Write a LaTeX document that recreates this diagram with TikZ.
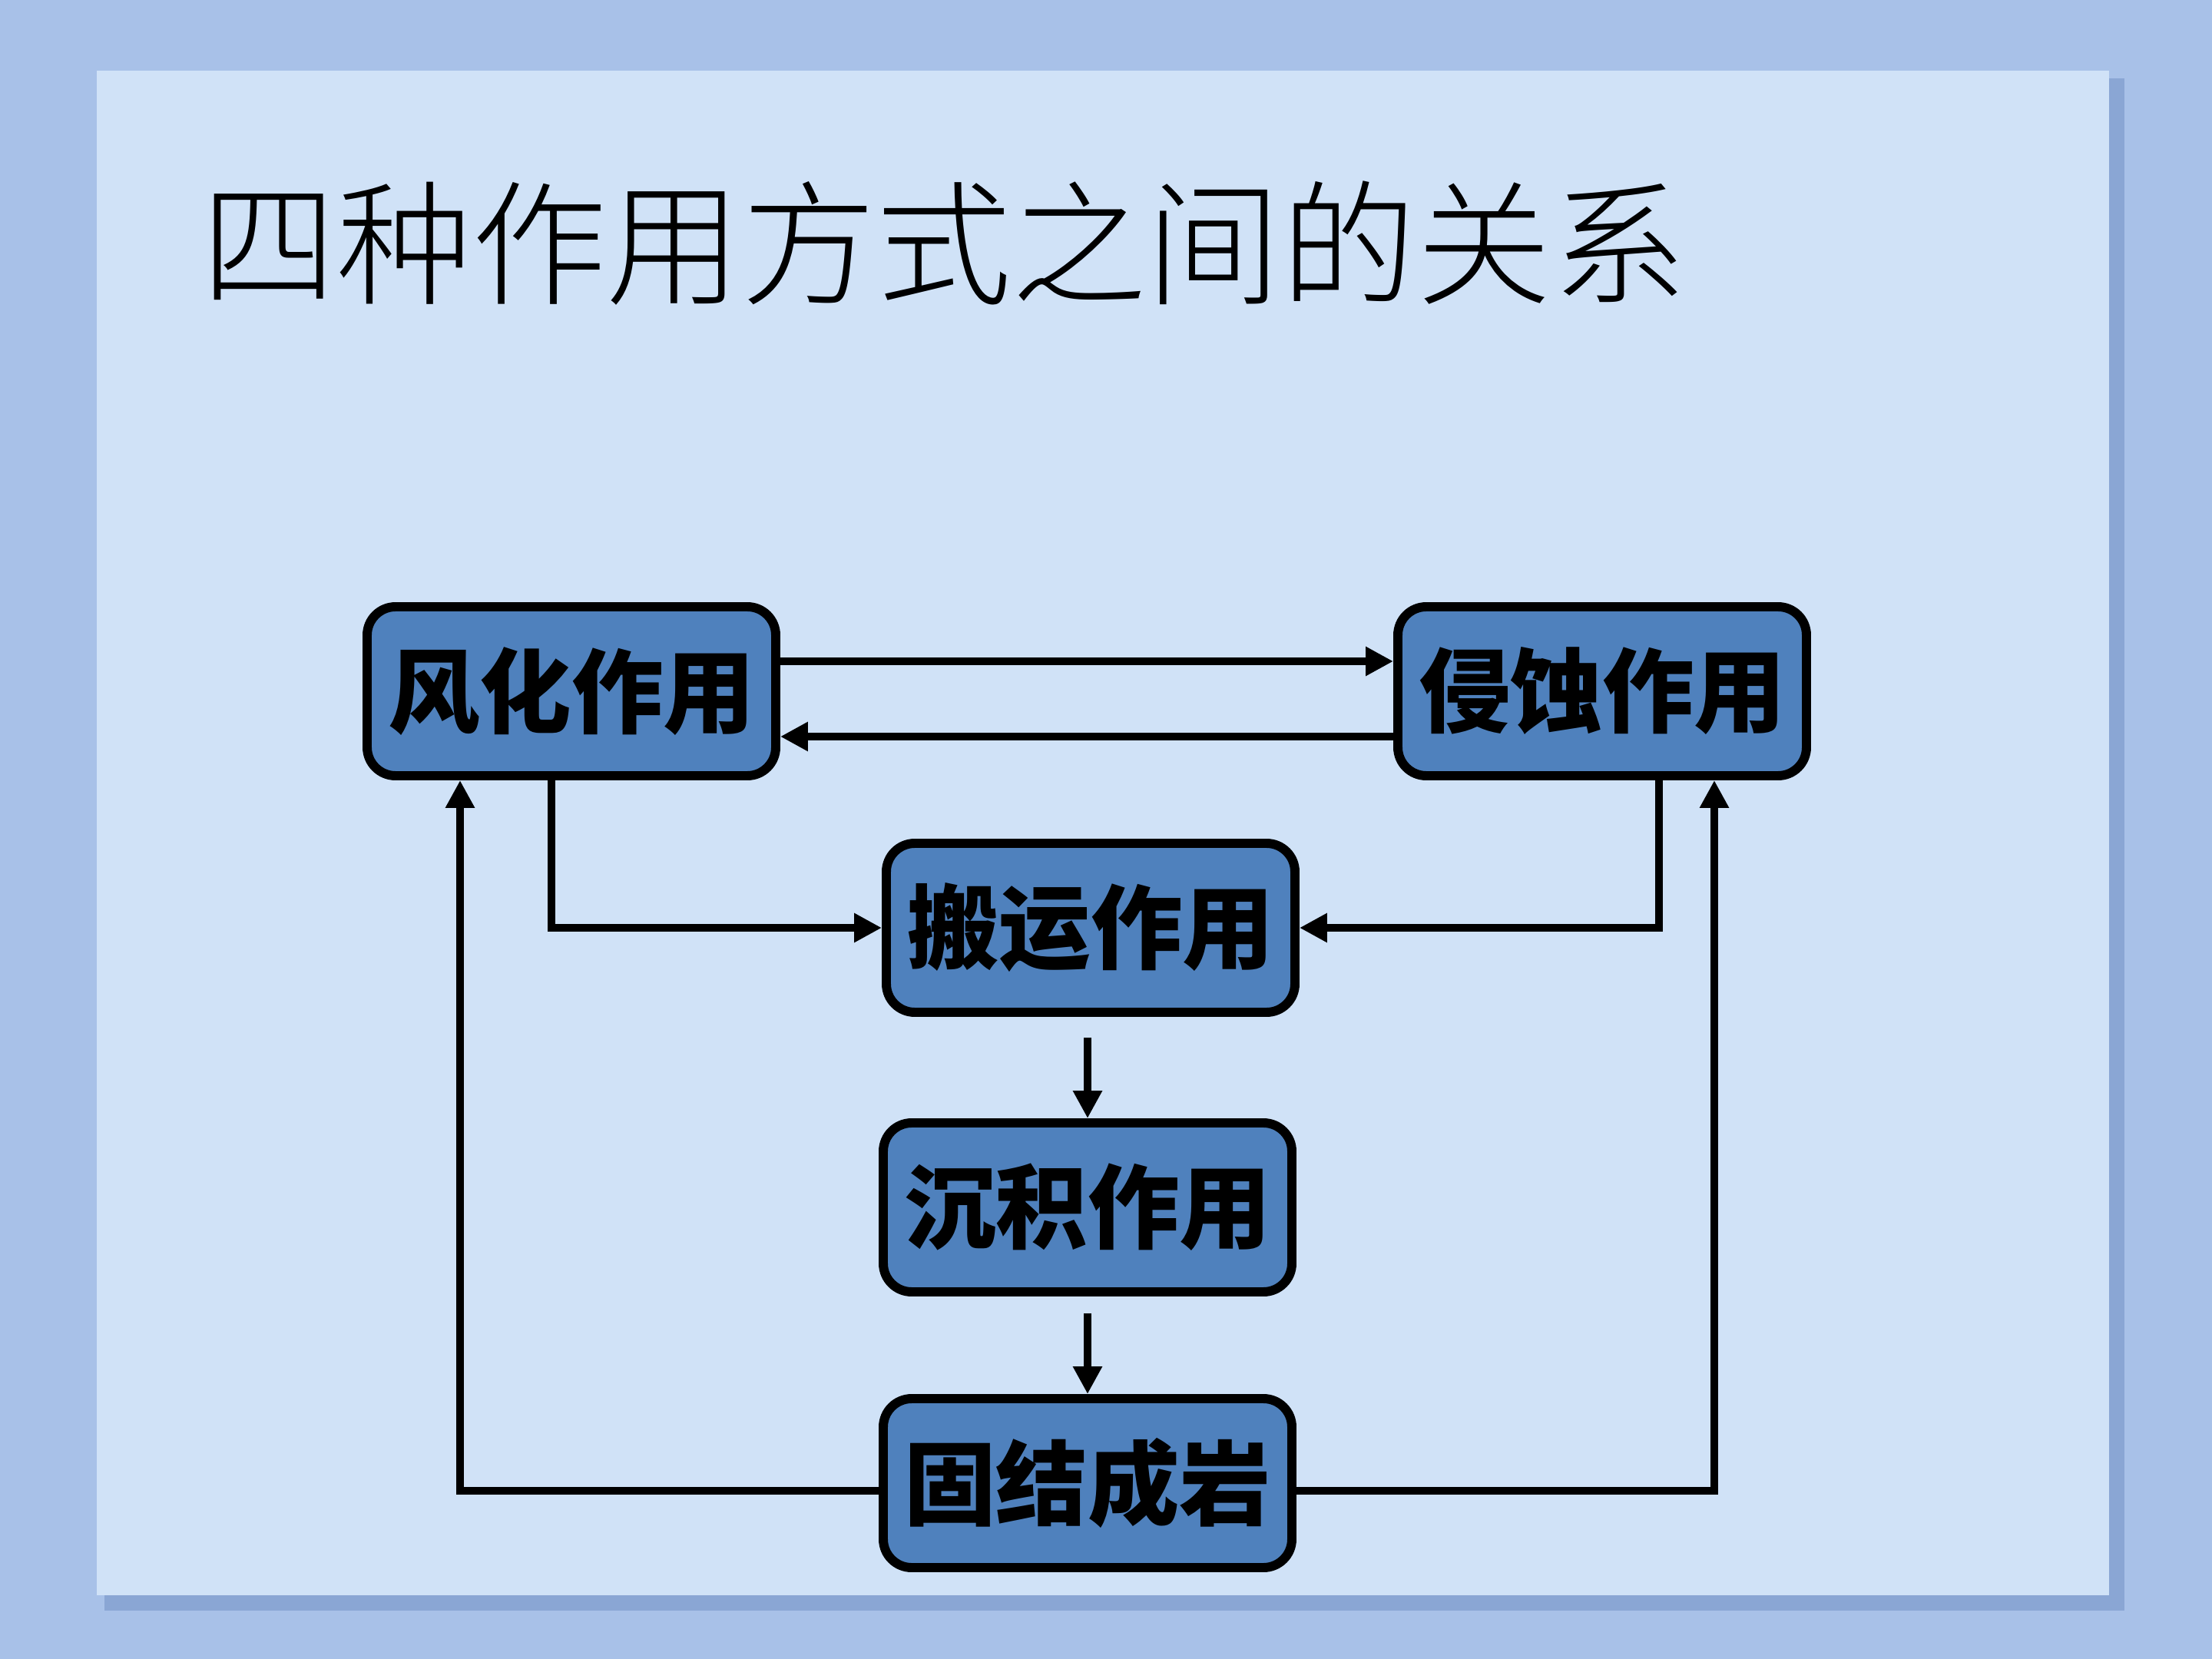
\documentclass[tikz,border=0pt]{standalone}
\usepackage{fontspec}
\usepackage{tikz}
\usetikzlibrary{arrows.meta}
\usetikzlibrary{calc}

\IfFontExistsTF{Noto Sans CJK SC Light}
  {\newfontfamily\titlefont{Noto Sans CJK SC Light}}
  {\newfontfamily\titlefont{Noto Sans CJK SC}}
\IfFontExistsTF{Noto Sans CJK SC Black}
  {\newfontfamily\boxfont{Noto Sans CJK SC Black}}
  {\newfontfamily\boxfont{Noto Sans CJK SC}[FakeBold=3]}

\definecolor{outerbg}{HTML}{A8C1E8}
\definecolor{panelbg}{HTML}{D0E2F7}
\definecolor{panelshadow}{HTML}{8AA6D4}
\definecolor{boxblue}{HTML}{4F81BD}

\begin{document}
\begin{tikzpicture}[
    proc/.style={draw=black, line width=3.4pt, fill=boxblue, rounded corners=0.37cm,
      minimum width=5.32cm, minimum height=2.2cm, inner sep=0pt,
      font=\boxfont\fontsize{34}{34}\selectfont},
    link/.style={line width=2.9pt, -{Triangle[length=0.36cm, width=0.36cm]}}]
        % Fix the page size
        \useasboundingbox (0,0) rectangle (28.8,-21.6);
        \fill[outerbg] (0,0) rectangle (28.8,-21.6);

        % Draw the slide panel with its shadow
        \fill[panelshadow] (1.36,-1.02) rectangle (27.66,-20.97);
        \fill[panelbg] (1.26,-0.92) rectangle (27.46,-20.77);

        % Draw the title
        \node[anchor=west, inner sep=0pt, font=\titlefont\fontsize{50}{50}\selectfont] (title) at (2.62,-3.17) {四种作用方式之间的关系};

        % Draw the five boxes
        \node[proc] (fh) at (7.44,-9.00) {风化作用};
        \node[proc] (qs) at (20.86,-9.00) {侵蚀作用};
        \node[proc] (by) at (14.20,-12.08) {搬运作用};
        \node[proc] (cj) at (14.16,-15.72) {沉积作用};
        \node[proc] (gj) at (14.16,-19.31) {固结成岩};

        % Arrows between the top boxes
        \draw[link] ([yshift=0.39cm]fh.east) -- ([yshift=0.39cm]qs.west);
        \draw[link] ([yshift=-0.59cm]qs.west) -- ([yshift=-0.59cm]fh.east);

        % Arrows into the middle box
        \draw[link] ([xshift=-0.26cm]fh.south) |- (by.west);
        \draw[link] ([xshift=0.74cm]qs.south) |- (by.east);

        % Arrows down the middle column
        \draw[link] ([yshift=-0.27cm]by.south -| cj.north) -- (cj.north);
        \draw[link] ([yshift=-0.22cm]cj.south) -- (gj.north);

        % Arrows back up to the top boxes
        \draw[link] ([yshift=-0.10cm]gj.west) -| ([xshift=-1.45cm]fh.south);
        \draw[link] ([yshift=-0.10cm]gj.east) -| ([xshift=1.46cm]qs.south);
      \end{tikzpicture}
\end{document}
